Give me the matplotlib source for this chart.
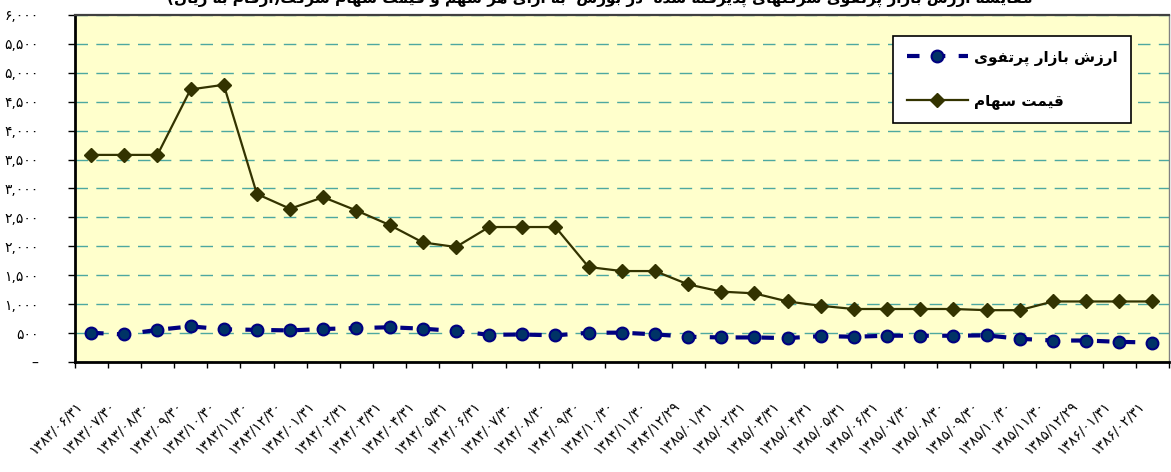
import matplotlib
matplotlib.use('Agg')
import matplotlib.pyplot as plt
import matplotlib.transforms as mtransforms
import numpy as np

# ---------------- data ----------------
dates = ['۱۳۸۳/۰۶/۳۱', '۱۳۸۳/۰۷/۳۰', '۱۳۸۳/۰۸/۳۰', '۱۳۸۳/۰۹/۳۰', '۱۳۸۳/۱۰/۳۰',
         '۱۳۸۳/۱۱/۳۰', '۱۳۸۳/۱۲/۳۰', '۱۳۸۴/۰۱/۳۱', '۱۳۸۴/۰۲/۳۱', '۱۳۸۴/۰۳/۳۱',
         '۱۳۸۴/۰۴/۳۱', '۱۳۸۴/۰۵/۳۱', '۱۳۸۴/۰۶/۳۱', '۱۳۸۴/۰۷/۳۰', '۱۳۸۴/۰۸/۳۰',
         '۱۳۸۴/۰۹/۳۰', '۱۳۸۴/۱۰/۳۰', '۱۳۸۴/۱۱/۳۰', '۱۳۸۴/۱۲/۲۹', '۱۳۸۵/۰۱/۳۱',
         '۱۳۸۵/۰۲/۳۱', '۱۳۸۵/۰۳/۳۱', '۱۳۸۵/۰۴/۳۱', '۱۳۸۵/۰۵/۳۱', '۱۳۸۵/۰۶/۳۱',
         '۱۳۸۵/۰۷/۳۰', '۱۳۸۵/۰۸/۳۰', '۱۳۸۵/۰۹/۳۰', '۱۳۸۵/۱۰/۳۰', '۱۳۸۵/۱۱/۳۰',
         '۱۳۸۵/۱۲/۲۹', '۱۳۸۶/۰۱/۳۱', '۱۳۸۶/۰۲/۳۱']

portfolio_value = [510, 480, 560, 620, 570, 560, 550, 575, 590, 605, 580, 540, 475,
                   480, 465, 510, 512, 482, 441, 429, 429, 418, 453, 441, 459, 459,
                   459, 465, 406, 376, 376, 353, 341]

share_price = [3580, 3580, 3580, 4710, 4790, 2905, 2650, 2850, 2620, 2370, 2070,
               1990, 2335, 2335, 2335, 1645, 1575, 1575, 1345, 1220, 1190, 1050,
               975, 920, 920, 920, 920, 900, 900, 1050, 1050, 1050, 1050]

ytick_values = [0, 500, 1000, 1500, 2000, 2500, 3000, 3500, 4000, 4500, 5000, 5500, 6000]
ytick_labels = ['–', '۵۰۰', '۱,۰۰۰', '۱,۵۰۰', '۲,۰۰۰', '۲,۵۰۰', '۳,۰۰۰',
                '۳,۵۰۰', '۴,۰۰۰', '۴,۵۰۰', '۵,۰۰۰', '۵,۵۰۰', '۶,۰۰۰']

label_portfolio = 'ارزش بازار پرتفوی'
label_price = 'قیمت سهام'
title_text = 'مقایسه ارزش بازار پرتفوی شرکتهای پذیرفته شده  در بورس  به ازای هر سهم و قیمت سهام شرکت(ارقام به ریال)'

# ------------- minimal Arabic/Persian shaping (visual order) -------------
FORMS = {
    'ا': ('\uFE8D', '\uFE8E', None, None),
    'آ': ('\uFE81', '\uFE82', None, None),
    'ب': ('\uFE8F', '\uFE90', '\uFE91', '\uFE92'),
    'پ': ('\uFB56', '\uFB57', '\uFB58', '\uFB59'),
    'ت': ('\uFE95', '\uFE96', '\uFE97', '\uFE98'),
    'ث': ('\uFE99', '\uFE9A', '\uFE9B', '\uFE9C'),
    'ج': ('\uFE9D', '\uFE9E', '\uFE9F', '\uFEA0'),
    'چ': ('\uFB7A', '\uFB7B', '\uFB7C', '\uFB7D'),
    'ح': ('\uFEA1', '\uFEA2', '\uFEA3', '\uFEA4'),
    'خ': ('\uFEA5', '\uFEA6', '\uFEA7', '\uFEA8'),
    'د': ('\uFEA9', '\uFEAA', None, None),
    'ذ': ('\uFEAB', '\uFEAC', None, None),
    'ر': ('\uFEAD', '\uFEAE', None, None),
    'ز': ('\uFEAF', '\uFEB0', None, None),
    'ژ': ('\uFB8A', '\uFB8B', None, None),
    'س': ('\uFEB1', '\uFEB2', '\uFEB3', '\uFEB4'),
    'ش': ('\uFEB5', '\uFEB6', '\uFEB7', '\uFEB8'),
    'ص': ('\uFEB9', '\uFEBA', '\uFEBB', '\uFEBC'),
    'ض': ('\uFEBD', '\uFEBE', '\uFEBF', '\uFEC0'),
    'ط': ('\uFEC1', '\uFEC2', '\uFEC3', '\uFEC4'),
    'ظ': ('\uFEC5', '\uFEC6', '\uFEC7', '\uFEC8'),
    'ع': ('\uFEC9', '\uFECA', '\uFECB', '\uFECC'),
    'غ': ('\uFECD', '\uFECE', '\uFECF', '\uFED0'),
    'ف': ('\uFED1', '\uFED2', '\uFED3', '\uFED4'),
    'ق': ('\uFED5', '\uFED6', '\uFED7', '\uFED8'),
    'ک': ('\uFB8E', '\uFB8F', '\uFB90', '\uFB91'),
    'گ': ('\uFB92', '\uFB93', '\uFB94', '\uFB95'),
    'ل': ('\uFEDD', '\uFEDE', '\uFEDF', '\uFEE0'),
    'م': ('\uFEE1', '\uFEE2', '\uFEE3', '\uFEE4'),
    'ن': ('\uFEE5', '\uFEE6', '\uFEE7', '\uFEE8'),
    'ه': ('\uFEE9', '\uFEEA', '\uFEEB', '\uFEEC'),
    'و': ('\uFEED', '\uFEEE', None, None),
    'ی': ('\uFBFC', '\uFBFD', '\uFBFE', '\uFBFF'),
}


def shape(s):
    out = []
    n = len(s)
    for i, c in enumerate(s):
        f = FORMS.get(c)
        if f is None:
            out.append(c)
            continue
        prev = s[i - 1] if i > 0 else None
        nxt = s[i + 1] if i < n - 1 else None
        jp = prev in FORMS and FORMS[prev][2] is not None
        jn = f[2] is not None and nxt in FORMS
        if jp and jn:
            g = f[3]
        elif jp:
            g = f[1]
        elif jn:
            g = f[2]
        else:
            g = f[0]
        out.append(g)
    vis = ''.join(reversed(out))
    return vis.translate(str.maketrans('()', ')('))


plt.rcParams['font.family'] = ['DejaVu Sans']

W, H = 1171, 472
fig = plt.figure(figsize=(W / 100, H / 100), dpi=100)
fig.patch.set_facecolor('white')

left_px, right_px, top_px, bot_px = 74.5, 1169, 14.7, 362.3
ax = fig.add_axes([left_px / W, 1 - bot_px / H, (right_px - left_px) / W, (bot_px - top_px) / H])
ax.set_facecolor('#FFFFCC')

x = np.arange(len(dates))

ax.set_ylim(0, 6000)
ax.set_xlim(-0.5, len(dates) - 0.5)
ax.set_yticks(ytick_values)
ax.set_yticklabels(ytick_labels, fontsize=10)
ax.yaxis.grid(True, color='#4DA8A0', linestyle=(0, (9, 6)), linewidth=1.0)
ax.set_axisbelow(True)

ln1, = ax.plot(x, portfolio_value, color='#000080', linewidth=3.0,
               linestyle=(0, (3, 3.2)), marker='o', markersize=8.5,
               markerfacecolor='#003366', markeredgecolor='#000080',
               markeredgewidth=1.5, zorder=3)
ln2, = ax.plot(x, share_price, color='#333300', linewidth=1.6, marker='D',
               markersize=7.5, markerfacecolor='#333300', markeredgecolor='#333300',
               zorder=4)

# x ticks: labels at centers, tick marks at boundaries
ax.set_xticks(x)
ax.set_xticklabels(dates, rotation=45, ha='right', va='top', fontsize=10)
ax.tick_params(axis='x', which='major', length=0, pad=26)
ax.set_xticks(np.arange(-0.5, len(dates), 1.0), minor=True)
ax.tick_params(axis='x', which='minor', length=4, width=1, color='black', direction='out')
ax.tick_params(axis='y', which='major', length=5, width=1, color='black', direction='out', pad=21)

offset = mtransforms.ScaledTranslation(-6 / 100, 0, fig.dpi_scale_trans)
for lbl in ax.get_xticklabels():
    lbl.set_transform(lbl.get_transform() + offset)

for s in ['left', 'bottom']:
    ax.spines[s].set_color('black')
    ax.spines[s].set_linewidth(2)
ax.spines['top'].set_color('#404040')
ax.spines['top'].set_linewidth(1.6)
ax.spines['right'].set_color('#808080')
ax.spines['right'].set_linewidth(1)

leg = ax.legend([ln1, ln2], [shape(label_portfolio), shape(label_price)],
                loc='upper left', bbox_to_anchor=(893 / W, 1 - 36 / H),
                bbox_transform=fig.transFigure, frameon=True, fancybox=False,
                edgecolor='black', facecolor='white', framealpha=1,
                prop={'weight': 'bold', 'size': 11}, handlelength=4.0,
                labelspacing=1.8, borderpad=0.9, handletextpad=0.4,
                borderaxespad=0)
leg.get_frame().set_linewidth(1.2)

fig.text(600 / W, 1 - 3 / H, shape(title_text), ha='center', va='baseline',
         fontsize=11, fontweight='bold')

fig.savefig('out.png', dpi=100, facecolor='white')
